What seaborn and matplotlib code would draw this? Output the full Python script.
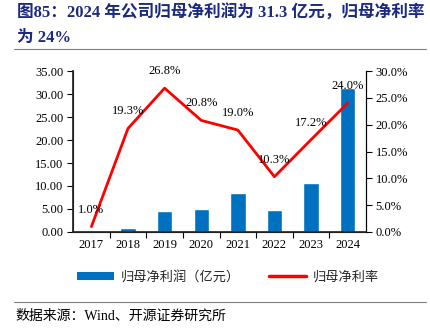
import numpy as np
import pandas as pd
import matplotlib
matplotlib.use("Agg")
import matplotlib.pyplot as plt
from matplotlib.patches import Patch
from matplotlib.lines import Line2D
from matplotlib.ticker import FuncFormatter, MultipleLocator, FixedLocator
import seaborn as sns

years = ["2017", "2018", "2019", "2020", "2021", "2022", "2023", "2024"]
profit = [0.03, 0.9, 4.5, 5.1, 8.4, 4.7, 10.7, 31.3]
margin = [1.0, 19.3, 26.8, 20.8, 19.0, 10.3, 17.2, 24.0]
title_text = "图85：2024 年公司归母净利润为 31.3 亿元，归母净利率\n为 24%"
source_text = "数据来源：Wind、开源证券研究所"
legend_labels = ["归母净利润（亿元）", "归母净利率"]

sns.set_theme(style="ticks")
plt.rcParams["font.family"] = ["Liberation Serif", "Noto Sans CJK SC", "DejaVu Sans"]
plt.rcParams["axes.unicode_minus"] = False

BLUE = "#0070C0"
RED = "#FF0000"

df = pd.DataFrame({"year": years, "profit": profit, "margin": margin, "pos": np.arange(len(years))})

fig = plt.figure(figsize=(4.3, 3.35), dpi=100)
ax = fig.add_axes([0.170, 0.3075, 0.681, 0.4805])
sns.barplot(data=df, x="year", y="profit", color=BLUE, width=0.42, saturation=1, ax=ax)
ax.set_xlim(-0.5, len(years) - 0.5)
ax.set_ylim(0, 35)
ax.yaxis.set_major_locator(MultipleLocator(5))
ax.yaxis.set_major_formatter(FuncFormatter(lambda v, p: f"{v:.2f}"))
ax.set_xlabel("")
ax.set_ylabel("")
ax.tick_params(axis="y", labelsize=9, length=4, width=0.8, color="black", pad=3, labelcolor="black")
ax.tick_params(axis="x", which="major", length=0, labelsize=9, pad=5, labelcolor="black")
ax.xaxis.set_minor_locator(FixedLocator(np.arange(len(years) - 1) + 0.5))
ax.tick_params(axis="x", which="minor", length=4, width=0.8, color="black", direction="out")
for s in ["left", "bottom", "right"]:
    ax.spines[s].set_color("black")
    ax.spines[s].set_linewidth(0.8)
ax.spines["top"].set_visible(False)

ax2 = ax.twinx()
sns.lineplot(data=df, x="pos", y="margin", color=RED, linewidth=2.0, ax=ax2, legend=False)
ax2.set_ylim(0, 30)
ax2.set_xlim(-0.5, len(years) - 0.5)
ax2.yaxis.set_major_locator(MultipleLocator(5))
ax2.yaxis.set_major_formatter(FuncFormatter(lambda v, p: f"{v:.1f}%"))
ax2.set_ylabel("")
ax2.set_xlabel("")
ax2.tick_params(axis="y", labelsize=9, length=4, width=0.8, color="black", pad=3, labelcolor="black")
ax2.spines["top"].set_visible(False)
ax2.spines["right"].set_color("black")
ax2.spines["right"].set_linewidth(0.8)
for x, v in zip(df["pos"], margin):
    ax2.annotate(f"{v:.1f}%", (x, v), xytext=(0, 8), textcoords="offset points",
                 ha="center", va="bottom", fontsize=9, color="black")

handles = [Patch(facecolor=BLUE, edgecolor="none"), Line2D([0], [0], color=RED, lw=2.5)]
fig.legend(handles, legend_labels, loc="center", bbox_to_anchor=(0.53, 0.173), ncol=2,
           frameon=False, fontsize=9.5, handlelength=2.8, handleheight=0.6, columnspacing=2.2,
           handletextpad=0.5)

fig.text(0.04, 0.985, title_text, fontsize=12, fontweight="bold", color="#1B2A80",
         ha="left", va="top", linespacing=1.65)
fig.add_artist(Line2D([0.033, 0.99], [1 - 49 / 335, 1 - 49 / 335], color="#7F7F7F", lw=0.8))
fig.add_artist(Line2D([0.033, 0.99], [1 - 302 / 335, 1 - 302 / 335], color="#7F7F7F", lw=0.8))
fig.text(0.037, 1 - 316 / 335, source_text, fontsize=10, color="black", ha="left", va="center")

fig.savefig("out.png", dpi=100)
